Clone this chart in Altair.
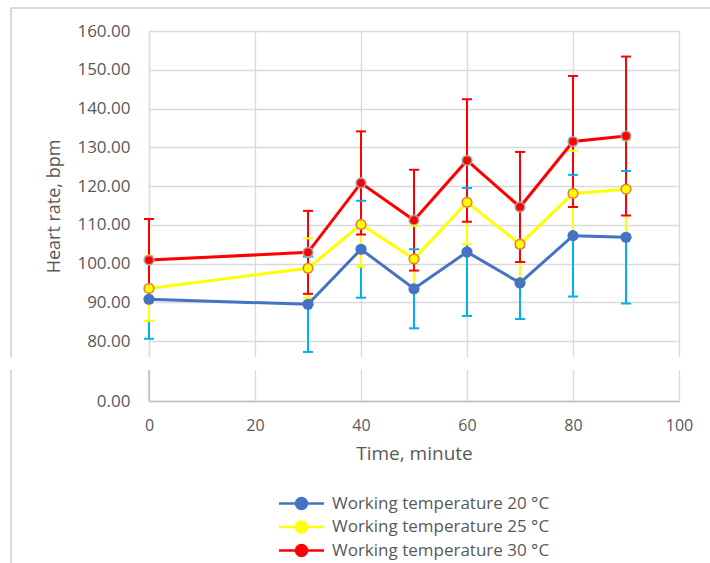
import altair as alt
import pandas as pd

# Sampling times (minutes) and mean heart rate ± SD for each working temperature
times = [0, 30, 40, 50, 60, 70, 80, 90]
series_names = [
    "Working temperature 20 °C",
    "Working temperature 25 °C",
    "Working temperature 30 °C",
]
hr_20 = [90.8, 89.5, 103.7, 93.5, 103.0, 95.0, 107.2, 106.8]
sd_20 = [10.2, 12.3, 12.5, 10.2, 16.5, 9.3, 15.7, 17.1]
hr_25 = [93.6, 98.8, 110.1, 101.2, 115.8, 105.0, 118.1, 119.2]
sd_25 = [8.4, 7.7, 10.9, 8.5, 10.8, 9.0, 11.0, 12.7]
hr_30 = [100.9, 102.9, 120.8, 111.2, 126.6, 114.6, 131.5, 132.9]
sd_30 = [10.6, 10.7, 13.3, 13.0, 15.8, 14.2, 16.9, 20.5]

line_colors = ["#4472c4", "#ffff00", "#ff0000"]
marker_fill = ["#4472c4", "#ffff00", "#ff0000"]
marker_edge = ["#4472c4", "#ed7d31", "#a6a6a6"]
errbar_colors = ["#00b0f0", "#ffff00", "#ff0000"]

y_ticks = [0, 80, 90, 100, 110, 120, 130, 140, 150, 160]
x_ticks = [0, 20, 40, 60, 80, 100]

rows = []
for name, hr, sd, edge, ecol in zip(
    series_names, [hr_20, hr_25, hr_30], [sd_20, sd_25, sd_30], marker_edge, errbar_colors
):
    for t, v, e in zip(times, hr, sd):
        rows.append(dict(time=t, hr=v, lo=v - e, hi=v + e, series=name, edge=edge, err=ecol))
df = pd.DataFrame(rows)

TEXT = "#595959"
GRID = "#d9d9d9"
FONT = "Open Sans"

# Broken y axis: a short band holding 0, then 75.9–160
y_scale = alt.Scale(domain=[0, 8, 75.9, 160], range=[370, 339, 326, 0], nice=False, zero=False)
x_scale = alt.Scale(domain=[0, 100], nice=False)

y_axis = alt.Axis(
    values=y_ticks, format=".2f", title="Heart rate, bpm", grid=True,
    labelFont=FONT, labelColor=TEXT, titleFont=FONT, titleColor=TEXT,
    labelFontSize=17, labelPadding=19, ticks=False, tickSize=0,
    domainColor=GRID, domainWidth=1.3, gridColor=GRID, gridWidth=1.3,
    titleFontSize=18, titleFontWeight="normal", titleX=-95, titleY=175,
    titleAngle=-90, titleAlign="center", titleBaseline="middle",
)
x_axis = alt.Axis(
    values=x_ticks, format="d", title="Time, minute", grid=True,
    labelFont=FONT, labelColor=TEXT, titleFont=FONT, titleColor=TEXT,
    labelFontSize=16, labelPadding=16, ticks=False, tickSize=0,
    labelFlush=False, labelOverlap=False,
    domainColor="#bfbfbf", domainWidth=1.5, gridColor=GRID, gridWidth=1.3,
    titleFontSize=19, titleFontWeight="normal", titleX=265, titleY=52,
    titleBaseline="middle",
)

legend_symbol = (
    "M-2.25,0L-0.55,0M0.55,0L2.25,0"
    "M-0.55,0A0.55,0.55,0,1,0,0.55,0A0.55,0.55,0,1,0,-0.55,0Z"
)
legend = alt.Legend(
    title=None, orient="none", legendX=141, legendY=461, direction="vertical",
    symbolType=legend_symbol, symbolSize=400, symbolStrokeWidth=2.5,
    labelFontSize=17, labelFont=FONT, labelColor=TEXT, labelOffset=19,
    labelLimit=0, rowPadding=1.5, padding=0,
)
stroke_scale = alt.Scale(domain=series_names, range=line_colors)
fill_scale = alt.Scale(domain=series_names, range=marker_fill)


def xq():
    return alt.X("time:Q", scale=x_scale, axis=x_axis)


def yq(field):
    return alt.Y(f"{field}:Q", scale=y_scale, axis=y_axis)


base = alt.Chart(df)
one_row = alt.Data(values=[{"k": 1}])

# White band that separates the two parts of the y axis
gap = alt.Chart(one_row).mark_rect(color="white").encode(
    x=alt.value(-4), x2=alt.value(536),
    y=alt.Y(datum=8, type="quantitative", scale=y_scale, axis=y_axis),
    y2=alt.datum(75.9),
)
lower_left = alt.Chart(one_row).mark_rule(color="#bfbfbf", strokeWidth=1.5).encode(
    x=alt.X(datum=0, type="quantitative", scale=x_scale, axis=x_axis),
    y=alt.Y(datum=0, type="quantitative", scale=y_scale, axis=y_axis),
    y2=alt.datum(8),
)

# Chart-area border (top edge and broken left edge)
frame_top = alt.Chart(one_row).mark_rule(color=GRID, strokeWidth=2).encode(
    x=alt.value(-138), x2=alt.value(561), y=alt.value(-23)
)
frame_left_upper = alt.Chart(one_row).mark_rule(color=GRID, strokeWidth=2).encode(
    x=alt.value(-138), y=alt.value(-23), y2=alt.value(326)
)
frame_left_lower = alt.Chart(one_row).mark_rule(color=GRID, strokeWidth=2).encode(
    x=alt.value(-138), y=alt.value(339), y2=alt.value(532)
)

err_rules = base.mark_rule(strokeWidth=2).encode(
    x=xq(), y=yq("lo"), y2="hi:Q", color=alt.Color("err:N", scale=None)
)
cap_lo = base.mark_tick(orient="horizontal", size=10, thickness=2, opacity=1).encode(
    x=xq(), y=yq("lo"), color=alt.Color("err:N", scale=None)
)
cap_hi = base.mark_tick(orient="horizontal", size=10, thickness=2, opacity=1).encode(
    x=xq(), y=yq("hi"), color=alt.Color("err:N", scale=None)
)
lines = base.mark_line(strokeWidth=3).encode(
    x=xq(), y=yq("hr"),
    stroke=alt.Stroke("series:N", scale=stroke_scale, legend=legend),
    order="time:Q",
)
marker_ring = base.mark_circle(size=125, opacity=1).encode(
    x=xq(), y=yq("hr"), color=alt.Color("edge:N", scale=None)
)
marker_core = base.mark_circle(size=62, opacity=1).encode(
    x=xq(), y=yq("hr"),
    fill=alt.Fill("series:N", scale=fill_scale, legend=legend),
)

chart = alt.layer(
    gap, lower_left, frame_top, frame_left_upper, frame_left_lower,
    err_rules, cap_lo, cap_hi, lines, marker_ring, marker_core,
).properties(
    width=530, height=370,
    autosize=alt.AutoSizeParams(type="none"),
    padding={"left": 149, "top": 31, "right": 31, "bottom": 162},
).configure_view(stroke=None).configure(background="white")

chart.save("out.html", embed_options={"renderer": "svg", "actions": False})
